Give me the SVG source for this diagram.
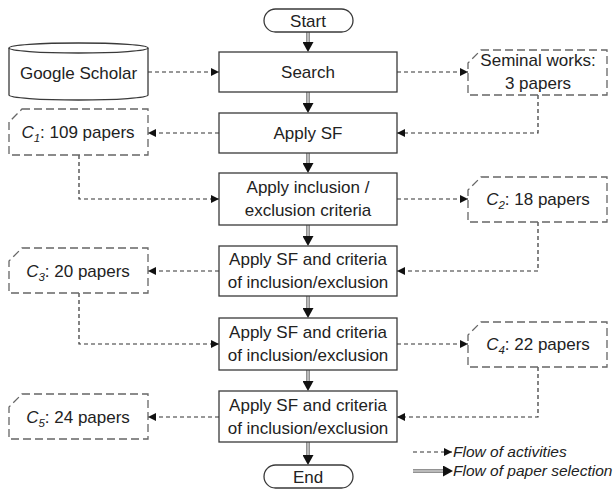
<svg xmlns="http://www.w3.org/2000/svg" width="614" height="490" viewBox="0 0 614 490">
<defs>
<style>
.box{fill:#fff;stroke:#3a3a3a;stroke-width:1.3}
.note{fill:#fff;stroke:#666;stroke-width:1.3;stroke-dasharray:8 4}
.t{font-family:"Liberation Sans",Arial,sans-serif;font-size:17px;fill:#222;text-anchor:middle}
.it{font-style:italic}
.sub{font-style:italic;font-size:11.5px}
.dash{fill:none;stroke:#333;stroke-width:1.2;stroke-dasharray:4 3}
.dblo{fill:none;stroke:#777;stroke-width:3.6}
.dbli{fill:none;stroke:#e8e8e8;stroke-width:1.2}
.leg{font-family:"Liberation Sans",Arial,sans-serif;font-size:15.5px;font-style:italic;fill:#222}
</style>
<marker id="ad" viewBox="0 0 8 8" markerWidth="8" markerHeight="8" markerUnits="userSpaceOnUse" refX="8" refY="4" orient="auto"><path d="M0,0 L8,4 L0,8 Z" fill="#111"/></marker>
<marker id="as" viewBox="0 0 10 11" markerWidth="10" markerHeight="11" markerUnits="userSpaceOnUse" refX="0" refY="5.5" orient="auto"><path d="M0,0 L10,5.5 L0,11 Z" fill="#111"/></marker>
</defs>

<g id="connectors">
<path class="dblo" d="M308,32 V42" marker-end="url(#as)"/><path class="dbli" d="M308,32 V42"/>
<path class="dblo" d="M308,92 V103" marker-end="url(#as)"/><path class="dbli" d="M308,92 V103"/>
<path class="dblo" d="M308,153 V163" marker-end="url(#as)"/><path class="dbli" d="M308,153 V163"/>
<path class="dblo" d="M308,225 V236" marker-end="url(#as)"/><path class="dbli" d="M308,225 V236"/>
<path class="dblo" d="M308,296 V308" marker-end="url(#as)"/><path class="dbli" d="M308,296 V308"/>
<path class="dblo" d="M308,370 V381" marker-end="url(#as)"/><path class="dbli" d="M308,370 V381"/>
<path class="dblo" d="M308,442 V455" marker-end="url(#as)"/><path class="dbli" d="M308,442 V455"/>
<path class="dash" d="M148,72 H219" marker-end="url(#ad)"/>
<path class="dash" d="M397,72 H468" marker-end="url(#ad)"/>
<path class="dash" d="M538,95 V133 H397" marker-end="url(#ad)"/>
<path class="dash" d="M219,133 H148" marker-end="url(#ad)"/>
<path class="dash" d="M79,155 V199 H219" marker-end="url(#ad)"/>
<path class="dash" d="M397,199 H468" marker-end="url(#ad)"/>
<path class="dash" d="M538,222 V271 H397" marker-end="url(#ad)"/>
<path class="dash" d="M219,271 H148" marker-end="url(#ad)"/>
<path class="dash" d="M79,293 V344 H219" marker-end="url(#ad)"/>
<path class="dash" d="M397,344 H468" marker-end="url(#ad)"/>
<path class="dash" d="M538,367 V417 H397" marker-end="url(#ad)"/>
<path class="dash" d="M219,417 H148" marker-end="url(#ad)"/>
</g>

<g id="start"><rect class="box" x="264" y="9" width="89" height="23" rx="11.5"/><text class="t" x="308" y="26.5">Start</text></g>
<g id="google-scholar">
<path class="box" d="M9,48 V95 A69.5,5 0 0 0 148,95 V48"/>
<ellipse class="box" cx="78.5" cy="48" rx="69.5" ry="5"/>
<text class="t" x="78.5" y="79">Google Scholar</text>
</g>
<g id="search"><rect class="box" x="219" y="52" width="178" height="40"/><text class="t" x="308" y="78">Search</text></g>
<g id="seminal"><path class="note" d="M481,50 H607 V95 H468 V63 Z"/><text class="t" x="538" y="66">Seminal works:</text><text class="t" x="538" y="89">3 papers</text></g>
<g id="apply-sf"><rect class="box" x="219" y="113" width="178" height="40"/><text class="t" x="308" y="139">Apply SF</text></g>
<g id="c1"><path class="note" d="M22,109 H148 V155 H9 V122 Z"/><text class="t" x="78" y="138"><tspan class="it">C</tspan><tspan class="sub" dy="4">1</tspan><tspan dy="-4">: 109 papers</tspan></text></g>
<g id="apply-inclusion"><rect class="box" x="219" y="173" width="178" height="52"/><text class="t" x="308" y="193">Apply inclusion /</text><text class="t" x="308" y="216">exclusion criteria</text></g>
<g id="c2"><path class="note" d="M481,177 H607 V222 H468 V190 Z"/><text class="t" x="538" y="205"><tspan class="it">C</tspan><tspan class="sub" dy="4">2</tspan><tspan dy="-4">: 18 papers</tspan></text></g>
<g id="apply-sf-criteria-1"><rect class="box" x="219" y="246" width="178" height="50"/><text class="t" x="308" y="265">Apply SF and criteria</text><text class="t" x="308" y="288">of inclusion/exclusion</text></g>
<g id="c3"><path class="note" d="M22,248 H148 V293 H9 V261 Z"/><text class="t" x="78" y="277"><tspan class="it">C</tspan><tspan class="sub" dy="4">3</tspan><tspan dy="-4">: 20 papers</tspan></text></g>
<g id="apply-sf-criteria-2"><rect class="box" x="219" y="318" width="178" height="52"/><text class="t" x="308" y="338">Apply SF and criteria</text><text class="t" x="308" y="361">of inclusion/exclusion</text></g>
<g id="c4"><path class="note" d="M481,322 H607 V367 H468 V335 Z"/><text class="t" x="538" y="350"><tspan class="it">C</tspan><tspan class="sub" dy="4">4</tspan><tspan dy="-4">: 22 papers</tspan></text></g>
<g id="apply-sf-criteria-3"><rect class="box" x="219" y="391" width="178" height="51"/><text class="t" x="308" y="411">Apply SF and criteria</text><text class="t" x="308" y="434">of inclusion/exclusion</text></g>
<g id="c5"><path class="note" d="M22,394 H148 V439 H9 V407 Z"/><text class="t" x="78" y="423"><tspan class="it">C</tspan><tspan class="sub" dy="4">5</tspan><tspan dy="-4">: 24 papers</tspan></text></g>
<g id="end"><rect class="box" x="264" y="465" width="89" height="23" rx="11.5"/><text class="t" x="308" y="482.5">End</text></g>

<g id="legend">
<path class="dash" d="M413,452 H452" marker-end="url(#ad)"/>
<text class="leg" x="453" y="457">Flow of activities</text>
<path class="dblo" d="M413,471 H443" marker-end="url(#as)"/><path class="dbli" d="M413,471 H443"/>
<text class="leg" x="453" y="476">Flow of paper selection</text>
</g>
</svg>
